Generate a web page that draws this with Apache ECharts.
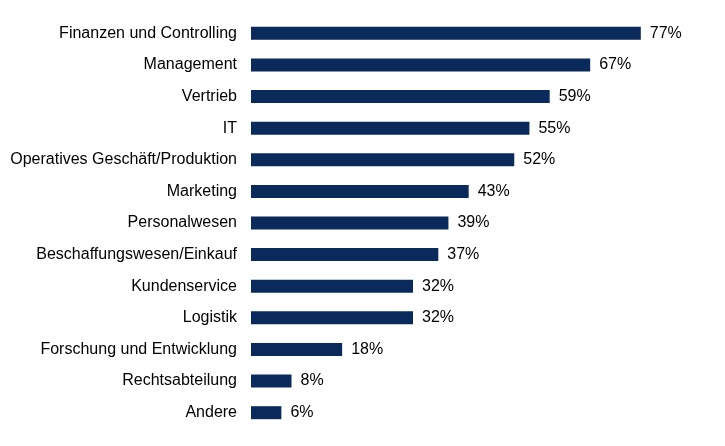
<!DOCTYPE html>
<html><head><meta charset="utf-8">
<script src="https://cdn.jsdelivr.net/npm/echarts@6/dist/echarts.min.js"></script>
<style>html,body{margin:0;padding:0;background:#fff}#c{width:725px;height:446px}</style>
</head><body><div id="c"></div>
<script>
const categories = ["Finanzen und Controlling","Management","Vertrieb","IT","Operatives Geschäft/Produktion","Marketing","Personalwesen","Beschaffungswesen/Einkauf","Kundenservice","Logistik","Forschung und Entwicklung","Rechtsabteilung","Andere"];
const values = [77,67,59,55,52,43,39,37,32,32,18,8,6];
const chart = echarts.init(document.getElementById('c'));
chart.setOption({
  animation:false,
  grid:{left:251,top:17.5,height:411,width:405,containLabel:false},
  xAxis:{type:'value',min:0,max:80,show:false},
  yAxis:{type:'category',data:categories,inverse:true,
    axisLine:{show:false},axisTick:{show:false},
    axisLabel:{margin:14,color:'#000',fontSize:16,fontFamily:'Liberation Sans, Arial, sans-serif'}},
  series:[{type:'bar',data:values,barWidth:13,itemStyle:{color:'#0b2a5c'},
    label:{show:true,position:'right',distance:9,formatter:'{c}%',color:'#000',fontSize:16,fontFamily:'Liberation Sans, Arial, sans-serif'}}]
});
</script></body></html>
